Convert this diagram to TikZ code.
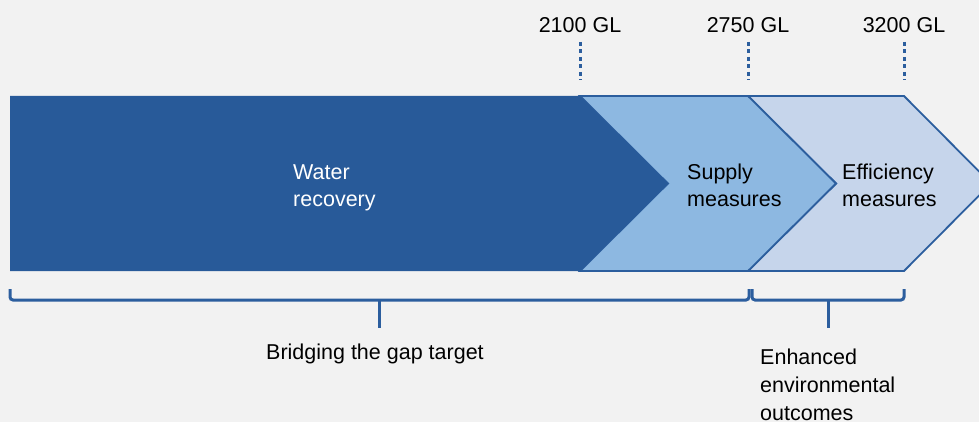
\documentclass[tikz,border=0pt]{standalone}
\usepackage{fontspec}
\setmainfont{Liberation Sans}
\definecolor{bg}{HTML}{F2F2F2}
\definecolor{darkblue}{HTML}{285A99}
\definecolor{midblue}{HTML}{8DB8E1}
\definecolor{paleblue}{HTML}{C6D5EB}
\definecolor{edgeblue}{HTML}{2C5E9E}
\begin{document}
\begin{tikzpicture}[x=1pt,y=-1pt,
  lbl/.style={inner sep=0pt,anchor=base west,align=left,
    font=\fontsize{21.5}{28}\selectfont},
  marker/.style={draw=edgeblue,line width=3pt,dash pattern=on 4pt off 3.5pt},
  bracket/.style={draw=edgeblue,line width=3pt,rounded corners=3pt},
  stage/.style={draw=edgeblue,line width=1.8pt,line join=miter}]
  % canvas
  \fill[bg] (0,0) rectangle (979,422);
  \useasboundingbox (0,0) rectangle (979,422);
  \clip (0,0) rectangle (979,422);

  % chevron stages, back to front
  \path[stage,fill=paleblue] (748,96) -- (904,96) -- (991,183.5) -- (904,271)
        -- (748,271) -- (836,183.5) -- cycle;
  \path[stage,fill=midblue] (580,96) -- (748,96) -- (836,183.5) -- (748,271)
        -- (580,271) -- (668,183.5) -- cycle;
  \fill[darkblue] (10,96) -- (580,96) -- (668,183.5) -- (580,271)
        -- (10,271) -- cycle;

  % stage labels (base anchor sits on the last line)
  \node[lbl,text=white] (water) at (293,207) {Water\\recovery};
  \node[lbl] (supply) at (687,207) {Supply\\measures};
  \node[lbl] (effic) at (842,207) {Efficiency\\measures};

  % volume thresholds
  \node[lbl,anchor=base] (t1) at (580,33) {2100 GL};
  \node[lbl,anchor=base] (t2) at (748,33) {2750 GL};
  \node[lbl,anchor=base] (t3) at (904,33) {3200 GL};
  \coordinate (m1) at (580,80);
  \coordinate (m2) at (748,80);
  \coordinate (m3) at (904,80);
  \draw[marker] (580,42) -- (m1);
  \draw[marker] (748,42) -- (m2);
  \draw[marker] (904,42) -- (m3);

  % brackets under the stages
  \coordinate (b1) at (379,300);
  \coordinate (b2) at (828,300);
  \path[bracket] (10,289) -- (10,300) -- (749,300) -- (749,289);
  \path[bracket] (752,289) -- (752,300) -- (904,300) -- (904,289);
  \node[lbl] (gap) at (266,359) {Bridging the gap target};
  \node[lbl] (env) at (760,420) {Enhanced\\environmental\\outcomes};
  \draw[edgeblue,line width=3pt] (b1) -- (379,328);
  \draw[edgeblue,line width=3pt] (b2) -- (828,328);
\end{tikzpicture}
\end{document}
